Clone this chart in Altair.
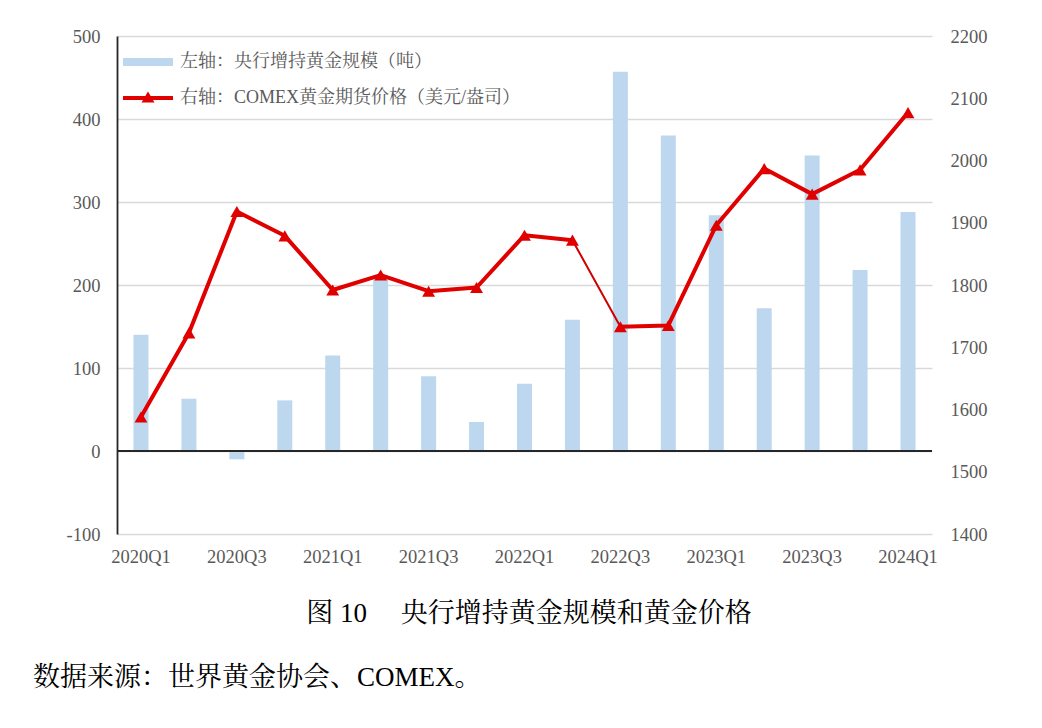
import altair as alt
import pandas as pd

quarters = ["2020Q1", "2020Q2", "2020Q3", "2020Q4", "2021Q1", "2021Q2", "2021Q3", "2021Q4",
            "2022Q1", "2022Q2", "2022Q3", "2022Q4", "2023Q1", "2023Q2", "2023Q3", "2023Q4", "2024Q1"]
gold_tons = [140, 63, -10, 61, 115, 207, 90, 35, 81, 158, 457, 380, 284, 172, 356, 218, 288]
gold_price = [1588, 1723, 1918, 1879, 1792, 1816, 1790, 1796, 1880, 1872, 1733, 1735,
              1896, 1987, 1946, 1985, 2077]
tick_labels = quarters[::2]
left_ticks = [-100, 0, 100, 200, 300, 400, 500]
right_ticks = [1400, 1500, 1600, 1700, 1800, 1900, 2000, 2100, 2200]
bar_label = "左轴：央行增持黄金规模（吨）"
line_label = "右轴：COMEX黄金期货价格（美元/盎司）"
caption = "图 10 \u3000央行增持黄金规模和黄金价格"
source = "数据来源：世界黄金协会、COMEX。"
thin_from, thin_to = "2022Q2", "2022Q3"

BLUE = "#BDD7EE"
RED = "#E00000"
GRID = "#D9D9D9"
LABEL = "#595959"
SERIF = "Liberation Serif"
MIXED = "Liberation Serif, Noto Serif CJK SC, Noto Sans CJK SC"

bars_df = pd.DataFrame({"q": quarters, "tons": gold_tons, "s1": bar_label})
pts_df = pd.DataFrame({"q": quarters, "price": gold_price, "s2": line_label})

# line segments: thick before and after, thin for one segment
i_from, i_to = quarters.index(thin_from), quarters.index(thin_to)
rows = []
for i, (q, p) in enumerate(zip(quarters, gold_price)):
    rows.append({"q": q, "price": p, "seg": "a" if i <= i_from else "b"})
    if i in (i_from, i_to):
        rows.append({"q": q, "price": p, "seg": "t"})
line_df = pd.DataFrame(rows)

x_enc = alt.X("q:N", sort=quarters,
              scale=alt.Scale(paddingInner=0, paddingOuter=0),
              axis=alt.Axis(title=None, values=tick_labels, labelAngle=0, domain=False,
                            ticks=False, tickSize=0, labelPadding=13, labelFont=SERIF,
                            labelFontSize=18.5, labelColor=LABEL, grid=False))

y_left = alt.Y("tons:Q", scale=alt.Scale(domain=[-100, 500], nice=False, zero=False),
               axis=alt.Axis(title=None, values=left_ticks, grid=True, gridColor=GRID,
                             gridWidth=1.5, domainColor="#262626", domainWidth=1.8,
                             ticks=False, tickSize=0, labelPadding=17, labelFont=SERIF,
                             labelFontSize=18.5, labelColor=LABEL,
                             labelExpr="'' + datum.value"))

bar_path = "M-1,-0.16H1V0.16H-1Z"
line_path = "M-1,-0.08H1V0.08H-1Z M0,-0.26L0.26,0.18L-0.26,0.18Z"

bars = alt.Chart(bars_df).mark_bar(size=15).encode(
    x=x_enc,
    y=y_left,
    fill=alt.Fill("s1:N", scale=alt.Scale(domain=[bar_label], range=[BLUE]),
                  legend=alt.Legend(title=None, orient="none", legendX=6, legendY=1,
                                    symbolType=bar_path, symbolSize=2500,
                                    symbolStrokeWidth=0, symbolOpacity=1, padding=0,
                                    labelFont=MIXED, labelFontSize=18, labelColor=LABEL,
                                    labelOffset=7, labelLimit=600)),
)

zero = alt.Chart(bars_df).mark_rule(color="#262626", strokeWidth=2).encode(
    y=alt.datum(0)
)

left_layer = alt.layer(bars, zero)

y_right = alt.Y("price:Q", scale=alt.Scale(domain=[1400, 2200], nice=False, zero=False),
                axis=alt.Axis(title=None, orient="right", values=right_ticks, grid=False,
                              domain=False, ticks=False, tickSize=0, labelPadding=18,
                              labelFont=SERIF, labelFontSize=18.5, labelColor=LABEL,
                              labelExpr="'' + datum.value"))

thick = alt.Chart(line_df).transform_filter(alt.datum.seg != "t").mark_line(
    color=RED, strokeWidth=4, strokeJoin="round", strokeCap="round"
).encode(x=alt.X("q:N", sort=quarters), y=y_right, detail="seg:N")

thin = alt.Chart(line_df).transform_filter(alt.datum.seg == "t").mark_line(
    color="#D00000", strokeWidth=2, strokeCap="round"
).encode(x=alt.X("q:N", sort=quarters), y=y_right, detail="seg:N")

points = alt.Chart(pts_df).mark_point(shape="triangle-up", filled=True, size=165,
                                       opacity=1).encode(
    x=alt.X("q:N", sort=quarters),
    y=y_right,
    fill=alt.Fill("s2:N", scale=alt.Scale(domain=[line_label], range=[RED]),
                  legend=alt.Legend(title=None, orient="none", legendX=6, legendY=37,
                                    symbolType=line_path, symbolSize=2500,
                                    symbolStrokeWidth=0, symbolOpacity=1, padding=0,
                                    labelFont=MIXED, labelFontSize=18, labelColor=LABEL,
                                    labelOffset=7, labelLimit=600)),
)

right_layer = alt.layer(thick, thin, points)

cap = alt.Chart(pd.DataFrame({"t": [caption]})).mark_text(
    font=MIXED, fontSize=27, color="#000000", align="center", baseline="middle"
).encode(x=alt.value(412), y=alt.value(578), text="t:N")

src = alt.Chart(pd.DataFrame({"t": [source]})).mark_text(
    font=MIXED, fontSize=27, color="#000000", align="left", baseline="middle"
).encode(x=alt.value(-84), y=alt.value(642), text="t:N")

chart = alt.layer(left_layer, right_layer, cap, src).resolve_scale(
    y="independent", fill="independent"
).resolve_legend(fill="independent").properties(
    width=815, height=498,
    padding={"left": 109, "top": 28, "right": 100, "bottom": 180},
    autosize=alt.AutoSizeParams(type="none"),
    background="white",
).configure_view(stroke=None)

chart.save("out.html", embed_options={"renderer": "svg", "actions": False})
